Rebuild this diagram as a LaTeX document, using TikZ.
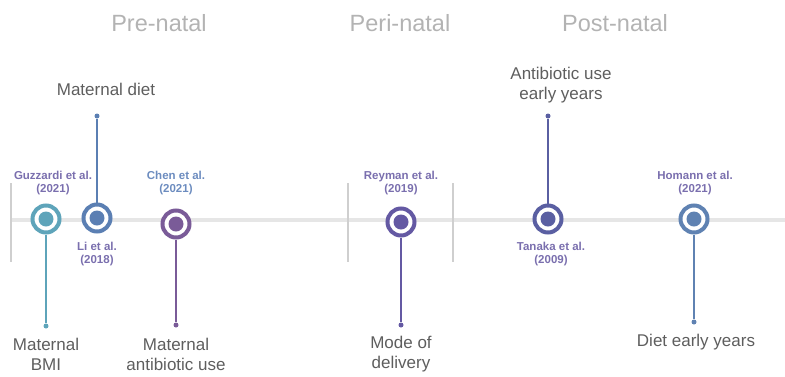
\documentclass[tikz,border=0pt]{standalone}
\usepackage{fontspec}
\setmainfont{Liberation Sans}
\definecolor{phasegrey}{HTML}{B3B3B3}
\definecolor{textgrey}{HTML}{5E5E5E}
\definecolor{axisgrey}{HTML}{E6E6E6}
\definecolor{sepgrey}{HTML}{CFCFCF}
\definecolor{gzcol}{HTML}{5EA4BA}
\definecolor{licol}{HTML}{5B7FB3}
\definecolor{chcol}{HTML}{7A5B98}
\definecolor{recol}{HTML}{6459A3}
\definecolor{tacol}{HTML}{5A5FA2}
\definecolor{hocol}{HTML}{5F82B2}
\definecolor{citea}{HTML}{7A6FAE}
\definecolor{citeb}{HTML}{6C8CBF}
\begin{document}
\begin{tikzpicture}[x=1pt,y=-1pt,
    phase/.style={text=phasegrey,font=\fontsize{23.5}{26}\selectfont},
    factor/.style={text=textgrey,align=center,inner sep=0.5pt,font=\fontsize{17}{20}\selectfont},
    cite/.style={align=center,inner sep=0pt,font=\bfseries\fontsize{11.5}{13.5}\selectfont},
    ring/.style={circle,draw=#1,fill=white,line width=4pt,minimum size=27pt,inner sep=0pt},
    dot/.style={circle,fill=#1,minimum size=15pt,inner sep=0pt},
    tip/.style={circle,fill=#1,minimum size=5pt,inner sep=0pt},
    stem/.style={draw=#1,line width=2pt}]
  \useasboundingbox (0,0) rectangle (785,376);
  \draw
    (159,23) node[phase] (pre){Pre-natal}
    (400,23) node[phase] (peri){Peri-natal}
    (615,23) node[phase] (post){Post-natal};
  % time axis and phase separators
  \coordinate (t0) at (10,220);
  \coordinate (t1) at (785,220);
  \draw[axisgrey,line width=4.5pt] (t0) -- (t1);
  \begin{scope}[sepgrey,line width=2pt]
    \draw (11,183) -- (11,262);
    \draw (348,183) -- (348,262);
    \draw (453,183) -- (453,262);
  \end{scope}
  % studies
  \node[ring=gzcol] (guzzardi) at (46,219) {};
  \node[ring=licol] (li) at (97,218) {};
  \node[ring=chcol] (chen) at (176,224) {};
  \node[ring=recol] (reyman) at (401,222) {};
  \node[ring=tacol] (tanaka) at (548,219) {};
  \node[ring=hocol] (homann) at (694,219) {};
  \node[dot=gzcol] at (guzzardi) {};
  \node[dot=licol] at (li) {};
  \node[dot=chcol] at (chen) {};
  \node[dot=recol] at (reyman) {};
  \node[dot=tacol] at (tanaka) {};
  \node[dot=hocol] at (homann) {};
  \node[tip=gzcol] (gzend) at (46,326) {};
  \node[tip=licol] (liend) at (97,116) {};
  \node[tip=chcol] (chend) at (176,325) {};
  \node[tip=recol] (reend) at (401,325) {};
  \node[tip=tacol] (taend) at (548,116) {};
  \node[tip=hocol] (hoend) at (694,322) {};
  \draw[stem=gzcol] (guzzardi) -- (gzend);
  \draw[stem=licol] (li) -- (liend);
  \draw[stem=chcol] (chen) -- (chend);
  \draw[stem=recol] (reyman) -- (reend);
  \draw[stem=tacol] (tanaka) -- (taend);
  \draw[stem=hocol] (homann) -- (hoend);
  % citations
  \draw
    (53,183) node[cite,text=citea] (gzref){Guzzardi et al.\\(2021)}
    (97,254) node[cite,text=citea] (liref){Li et al.\\(2018)}
    (176,183) node[cite,text=citeb] (chref){Chen et al.\\(2021)}
    (401,183) node[cite,text=citea] (reref){Reyman et al.\\(2019)}
    (551,254) node[cite,text=citea] (taref){Tanaka et al.\\(2009)}
    (695,183) node[cite,text=citea] (horef){Homann et al.\\(2021)};
  % factors
  \draw
    (106,89) node[factor] (diet){Maternal diet}
    (561,85) node[factor] (abearly){Antibiotic use\\early years}
    (46,354) node[factor] (bmi){Maternal\\BMI}
    (176,354) node[factor] (abmat){Maternal\\antibiotic use}
    (401,354) node[factor] (mode){Mode of\\delivery}
    (696,342) node[factor] (dietearly){Diet early years};
\end{tikzpicture}
\end{document}
